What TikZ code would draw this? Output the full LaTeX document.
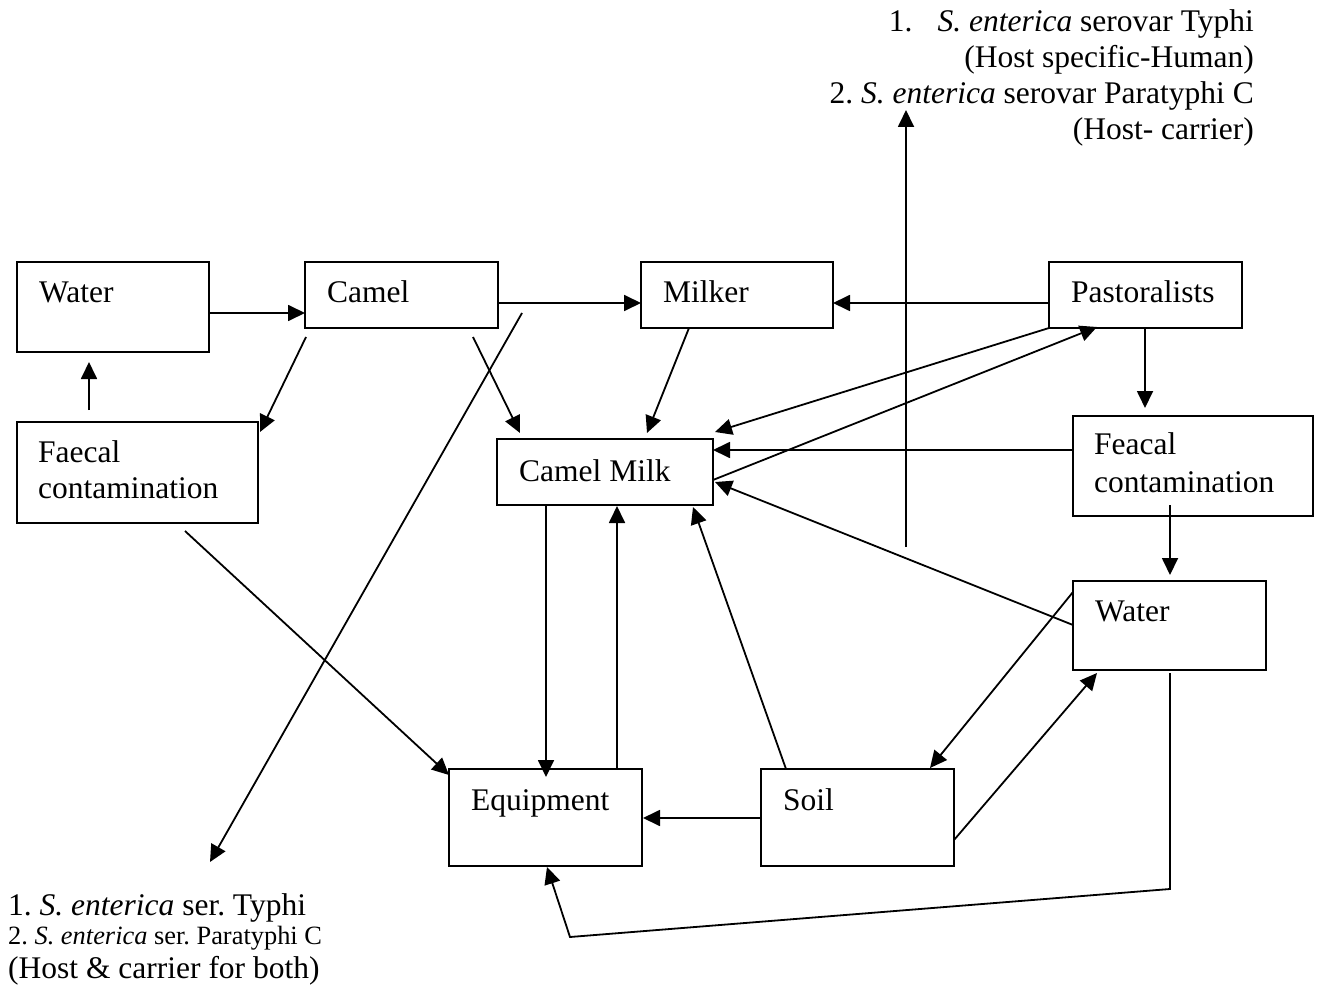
\documentclass[tikz,border=0pt]{standalone}
\usepackage{fontspec}
\setmainfont{Liberation Serif}
\usetikzlibrary{arrows.meta,calc}
\frenchspacing

\tikzset{
  box/.style={draw, line width=1.8pt, inner sep=0pt, outer sep=0pt, anchor=north west},
  txt/.style={inner sep=0pt, anchor=base west, font=\fontsize{31.5}{36}\selectfont},
  rtxt/.style={inner sep=0pt, anchor=base east, font=\fontsize{31.5}{36}\selectfont},
  smalltxt/.style={inner sep=0pt, anchor=base west, font=\fontsize{26.4}{30}\selectfont},
  arr/.style={line width=1.8pt, -{Triangle[length=17pt,width=16pt]}}
}

\begin{document}
\begin{tikzpicture}[x=1pt,y=-1pt]
\useasboundingbox (0,0) rectangle (1320,992);

% boxes
\node[box, minimum width=192pt, minimum height=90pt]  (water1)  at (17,262)   {};
\node[box, minimum width=193pt, minimum height=66pt]  (camel)   at (305,262)  {};
\node[box, minimum width=192pt, minimum height=66pt]  (milker)  at (641,262)  {};
\node[box, minimum width=193pt, minimum height=66pt]  (past)    at (1049,262) {};
\node[box, minimum width=241pt, minimum height=101pt] (faecalL) at (17,422)   {};
\node[box, minimum width=216pt, minimum height=66pt]  (milk)    at (497,439)  {};
\node[box, minimum width=240pt, minimum height=100pt] (feacalR) at (1073,416) {};
\node[box, minimum width=193pt, minimum height=89pt]  (water2)  at (1073,581) {};
\node[box, minimum width=193pt, minimum height=97pt]  (equip)   at (449,769)  {};
\node[box, minimum width=193pt, minimum height=97pt]  (soil)    at (761,769)  {};

% box labels
\node[txt] (water1t)   at (39,303)   {Water};
\node[txt] (camelt)    at (327,303)  {Camel};
\node[txt] (milkert)   at (663,303)  {Milker};
\node[txt] (pastt)     at (1071,303) {Pastoralists};
\node[txt] (faecalLa)  at (38,462)   {Faecal};
\node[txt] (faecalLb)  at (38,498)   {contamination};
\node[txt] (milkt)     at (519,481)  {Camel Milk};
\node[txt] (feacalRa)  at (1094,454) {Feacal};
\node[txt] (feacalRb)  at (1094,492) {contamination};
\node[txt] (water2t)   at (1095,621) {Water};
\node[txt] (equipt)    at (471,810)  {Equipment};
\node[txt] (soilt)     at (783,810)  {Soil};

% notes, top right
\node[rtxt] (noteA1) at (1254,32)  {1.\hspace{25pt}\textit{S. enterica} serovar Typhi};
\node[rtxt] (noteA2) at (1254,68)  {(Host specific-Human)};
\node[rtxt] (noteA3) at (1254,104) {2. \textit{S. enterica} serovar Paratyphi C};
\node[rtxt] (noteA4) at (1254,140) {(Host- carrier)};

% notes, bottom left
\node[txt]      (noteB1) at (8,915) {1. \textit{S. enterica} ser. Typhi};
\node[smalltxt] (noteB2) at (8,944) {2. \textit{S. enterica} ser. Paratyphi C};
\node[txt]      (noteB3) at (8,978) {(Host \& carrier for both)};

% free ends of the long arrows
\coordinate (diagA) at (522,313);
\coordinate (diagB) at (210,862);
\coordinate (vertA) at (906,547);
\coordinate (vertB) at (906,110);
\coordinate (loopR) at (1170,889);
\coordinate (loopL) at (570,937);

% connectors
\draw[arr] ($(water1.north east)+(0,51)$) -- ($(camel.north west)+(0,51)$);
\draw[arr] ($(faecalL.north west)+(72,-12)$) -- ($(water1.south west)+(72,10)$);
\draw[arr] ($(camel.south west)+(1,9)$) -- ($(faecalL.north east)+(2,10)$);
\draw[arr] ($(camel.north east)+(0,41)$) -- ($(milker.north west)+(0,41)$);
\draw[arr] ($(camel.south west)+(168,9)$) -- ($(milk.north west)+(23,-6)$);
\draw[arr] (diagA) -- (diagB);
\draw[arr] ($(milker.south west)+(48,0)$) -- ($(milk.north west)+(150,-6)$);
\draw[arr] ($(past.north west)+(0,41)$) -- ($(milker.north east)+(0,41)$);
\draw[arr] (past.south west) -- ($(milk.north east)+(2,-7)$);
\draw[arr] ($(milk.south east)+(0,-25)$) -- ($(past.south west)+(48,-1)$);
\draw[arr] ($(feacalR.north west)+(0,34)$) -- ($(milk.north east)+(0,11)$);
\draw[arr] ($(water2.north west)+(0,44)$) -- ($(milk.south east)+(2,-23)$);
\draw[arr] ($(past.south west)+(96,0)$) -- ($(feacalR.north west)+(72,-8)$);
\draw[arr] ($(feacalR.south west)+(97,-11)$) -- ($(water2.north west)+(97,-6)$);
\draw[arr] (vertA) -- (vertB);
\draw[arr] ($(milk.south west)+(49,0)$) -- ($(equip.north west)+(97,8)$);
\draw[arr] ($(equip.north west)+(168,0)$) -- ($(milk.south west)+(120,1)$);
\draw[arr] ($(soil.north west)+(25,0)$) -- ($(milk.south west)+(196,2)$);
\draw[arr] ($(faecalL.south west)+(168,8)$) -- ($(equip.north west)+(0,6)$);
\draw[arr] ($(soil.north west)+(0,49)$) -- ($(equip.north east)+(1,49)$);
\draw[arr] ($(water2.north west)+(0,11)$) -- ($(soil.north west)+(169,-1)$);
\draw[arr] ($(soil.north east)+(0,71)$) -- ($(water2.south west)+(24,3)$);
\draw[arr] ($(water2.south west)+(97,3)$) -- (loopR) -- (loopL) -- ($(equip.south west)+(98,1)$);
\end{tikzpicture}
\end{document}
